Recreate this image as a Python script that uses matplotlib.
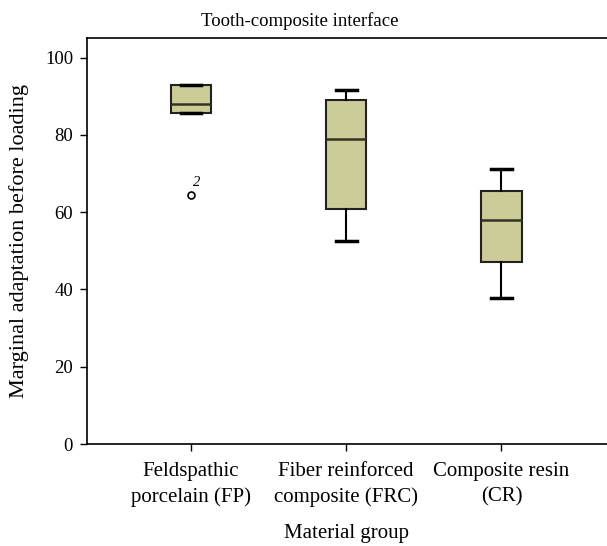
import numpy as np
import matplotlib
matplotlib.use("Agg")
import matplotlib.pyplot as plt

# box statistics
groups = ["Feldspathic\nporcelain (FP)", "Fiber reinforced\ncomposite (FRC)", "Composite resin\n(CR)"]
whislo = [85.6, 52.6, 37.7]
q1 = [85.6, 60.9, 47.1]
med = [88.1, 79.0, 58.1]
q3 = [92.9, 89.1, 65.5]
whishi = [92.9, 91.5, 71.2]
fliers = [[64.5], [], []]
flier_ids = [["2"], [], []]

plt.rcParams["font.family"] = ["Liberation Serif", "DejaVu Serif"]

fig = plt.figure(figsize=(6.07, 5.46), dpi=100)
ax = fig.add_axes([0.1433, 0.1868, 0.8567, 0.743])

stats = [dict(whislo=whislo[i], q1=q1[i], med=med[i], q3=q3[i], whishi=whishi[i],
              fliers=fliers[i], label=groups[i]) for i in range(len(groups))]
ax.bxp(stats, positions=[1, 2, 3], widths=0.26, patch_artist=True,
       boxprops=dict(facecolor="#cccc99", edgecolor="#222222", linewidth=1.5),
       medianprops=dict(color="#333322", linewidth=1.8),
       whiskerprops=dict(color="black", linewidth=1.5),
       capprops=dict(color="black", linewidth=2.5),
       capwidths=0.135,
       flierprops=dict(marker="o", markersize=5, markerfacecolor="white",
                       markeredgecolor="black", markeredgewidth=1.2))

for i, (vals, ids) in enumerate(zip(fliers, flier_ids)):
    for v, t in zip(vals, ids):
        ax.text(i + 1 + 0.015, v + 1.4, t, fontsize=10.5, style="italic",
                ha="left", va="bottom")

ax.set_xlim(0.33, 3.68)
ax.set_ylim(0, 105)
ax.set_yticks([0, 20, 40, 60, 80, 100])
ax.spines["right"].set_visible(False)
for s in ("left", "top", "bottom"):
    ax.spines[s].set_linewidth(1.2)
ax.tick_params(axis="both", length=5, width=1.0, direction="out")
ax.tick_params(axis="y", labelsize=13.5, pad=5)
ax.tick_params(axis="x", labelsize=15, pad=8)
plt.setp(ax.get_xticklabels(), linespacing=1.45)
ax.set_title("Tooth-composite interface", fontsize=13.5, pad=9, x=0.41)
ax.set_xlabel("Material group", fontsize=15, labelpad=12)
ax.set_ylabel("Marginal adaptation before loading", fontsize=16)
ax.yaxis.set_label_coords(-0.112, 0.5)

fig.savefig("out.png", dpi=100)
